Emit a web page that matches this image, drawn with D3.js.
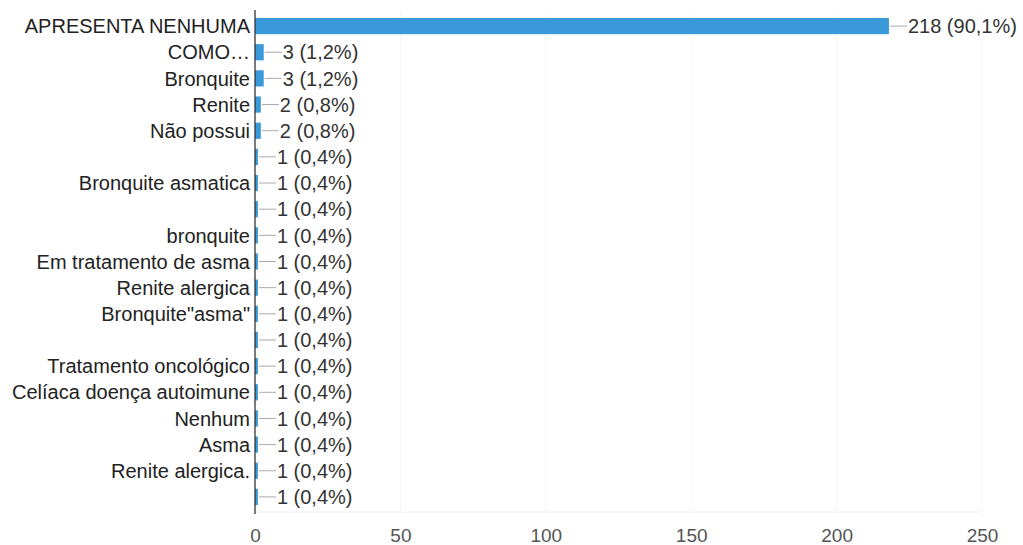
<!DOCTYPE html>
<html><head><meta charset="utf-8">
<script src="https://cdn.jsdelivr.net/npm/d3@7"></script>
<style>body{margin:0;background:#fff}svg{display:block}</style>
</head><body>
<svg id="c" width="1023" height="545"></svg>
<script>
const categories = ["APRESENTA NENHUMA","COMO…","Bronquite","Renite","Não possui","","Bronquite asmatica","","bronquite","Em tratamento de asma","Renite alergica","Bronquite\"asma\"","","Tratamento oncológico","Celíaca doença autoimune","Nenhum","Asma","Renite alergica.",""];
const values = [218,3,3,2,2,1,1,1,1,1,1,1,1,1,1,1,1,1,1];
const percents = ["90,1%","1,2%","1,2%","0,8%","0,8%","0,4%","0,4%","0,4%","0,4%","0,4%","0,4%","0,4%","0,4%","0,4%","0,4%","0,4%","0,4%","0,4%","0,4%"];
const xTicks = [0,50,100,150,200,250];

const svg = d3.select("#c");
const font = "Liberation Sans, Arial, sans-serif";
const x0 = 255, x1 = 982, yTop = 13, yBot = 510;
const x = d3.scaleLinear().domain([0,250]).range([x0,x1]);
const ids = categories.map((c,i)=>i);
const y = d3.scaleBand().domain(ids).range([yTop,yBot]).paddingInner(0.38).paddingOuter(0.19);

// faint grid
svg.append("g").selectAll("line").data(xTicks.slice(1)).join("line")
  .attr("x1",d=>x(d)).attr("x2",d=>x(d)).attr("y1",yTop).attr("y2",yBot)
  .attr("stroke","#f6f6f6").attr("stroke-width",1);
svg.append("line").attr("x1",x0).attr("x2",x1).attr("y1",yBot+2).attr("y2",yBot+2).attr("stroke","#f0f0f0");

// bars
svg.append("g").selectAll("rect").data(values).join("rect")
  .attr("x",x(0)).attr("y",(d,i)=>y(i)).attr("width",d=>x(d)-x(0)).attr("height",y.bandwidth())
  .attr("fill","#3a9ad9");

// leader lines + labels
const lab = svg.append("g");
values.forEach((v,i)=>{
  const cy = y(i)+y.bandwidth()/2;
  const ex = x(v)+1;
  lab.append("line").attr("x1",ex).attr("x2",ex+17).attr("y1",cy).attr("y2",cy).attr("stroke","#aaaaaa").attr("stroke-width",1);
  lab.append("text").attr("x",ex+18).attr("y",cy).attr("dy","0.36em")
    .attr("font-family",font).attr("font-size",20).attr("fill","#333")
    .text(v+" ("+percents[i]+")");
});

// category labels
const yAxis = d3.axisLeft(y).tickSize(0).tickPadding(5).tickFormat(i=>categories[i]);
const ga = svg.append("g").attr("transform",`translate(${x0},0)`).call(yAxis);
ga.select(".domain").remove();
ga.selectAll("text").attr("font-family",font).attr("font-size",20).attr("fill","#222").attr("dy","0.36em");
svg.append("line").attr("x1",x0).attr("x2",x0).attr("y1",10).attr("y2",514).attr("stroke","#333").attr("stroke-width",1.3);

// x axis
const xAxis = d3.axisBottom(x).tickValues(xTicks).tickSize(0).tickPadding(16);
const gx = svg.append("g").attr("transform",`translate(0,${yBot+3})`).call(xAxis);
gx.select(".domain").remove();
gx.selectAll("text").attr("font-family",font).attr("font-size",19).attr("fill","#555");
</script>
</body></html>
